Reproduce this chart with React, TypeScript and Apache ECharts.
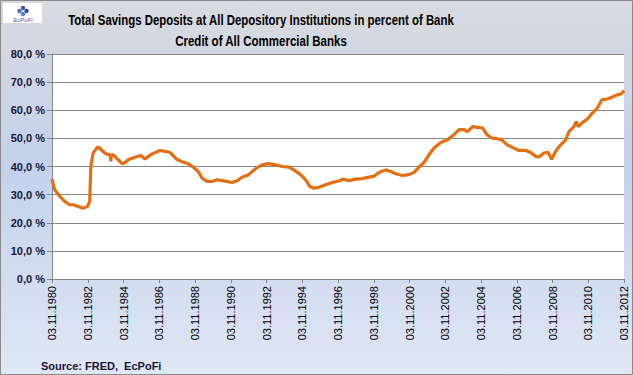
import React, { useEffect, useRef } from "react";
import * as echarts from "echarts";

// Decimal years (03.11.1980 ≈ 1980.84) and values in percent
const dates: number[] = [
  1980.84, 1980.99, 1981.27, 1981.55, 1981.83, 1982.02, 1982.30, 1982.58, 1982.82, 1982.95,
  1983.01, 1983.14, 1983.38, 1983.51, 1983.79, 1983.98, 1984.10, 1984.13, 1984.16, 1984.26,
  1984.54, 1984.76, 1984.95, 1985.10, 1985.48, 1985.81, 1986.04, 1986.41, 1986.88, 1987.16,
  1987.44, 1987.81, 1988.09, 1988.46, 1988.74, 1989.02, 1989.23, 1989.51, 1989.79, 1990.07,
  1990.44, 1990.91, 1991.19, 1991.47, 1991.84, 1992.22, 1992.59, 1992.96, 1993.34, 1993.72,
  1994.09, 1994.37, 1994.74, 1995.02, 1995.26, 1995.49, 1995.77, 1996.14, 1996.52, 1996.98,
  1997.08, 1997.45, 1997.82, 1998.20, 1998.57, 1998.85, 1999.13, 1999.51, 1999.79, 2000.07,
  2000.44, 2000.81, 2001.09, 2001.37, 2001.65, 2001.93, 2002.21, 2002.59, 2002.96, 2003.33,
  2003.61, 2003.89, 2004.08, 2004.37, 2004.65, 2004.93, 2005.11, 2005.18, 2005.46, 2005.75,
  2006.03, 2006.31, 2006.59, 2006.96, 2007.34, 2007.62, 2007.90, 2008.08, 2008.36, 2008.60,
  2008.79, 2009.02, 2009.20, 2009.58, 2009.76, 2010.04, 2010.17, 2010.28, 2010.51, 2010.79,
  2011.07, 2011.35, 2011.60, 2011.91, 2012.19, 2012.47, 2012.66, 2012.85,
];
const savingsShare: number[] = [
  35.5, 31.7, 29.4, 27.6, 26.4, 26.4, 25.8, 25.2, 25.8, 27.5,
  40.0, 44.8, 46.9, 46.5, 44.8, 44.2, 44.2, 41.8, 44.0, 44.2,
  42.4, 41.0, 41.5, 42.4, 43.3, 43.9, 42.7, 44.4, 45.7, 45.4,
  45.0, 42.6, 41.8, 41.0, 39.8, 38.2, 35.9, 34.7, 34.7, 35.3,
  34.9, 34.3, 34.9, 36.2, 37.1, 39.2, 40.6, 41.0, 40.6, 40.0,
  39.8, 38.8, 37.1, 35.3, 32.9, 32.3, 32.6, 33.5, 34.3, 35.0,
  35.5, 35.0, 35.5, 35.7, 36.2, 36.5, 37.9, 38.8, 38.2, 37.4,
  36.8, 37.1, 37.9, 39.8, 41.4, 44.2, 46.6, 48.5, 49.5, 51.3,
  53.1, 53.1, 52.4, 54.2, 53.9, 53.7, 51.9, 51.3, 50.1, 49.9,
  49.3, 47.7, 46.8, 45.7, 45.7, 45.0, 43.6, 43.4, 44.8, 45.0,
  42.6, 45.4, 47.1, 49.5, 52.4, 54.2, 56.0, 54.2, 55.6, 56.9,
  59.0, 60.8, 63.7, 64.0, 64.7, 65.5, 65.7, 67.0,
];

const startYear = 1980.84;
const tickLabelPrefix = "03.11.";
const titleLines = [
  "Total Savings Deposits at All Depository Institutions in percent of Bank",
  "Credit of All Commercial Banks",
];
const sourceText = "Source: FRED,  EcPoFi";

export default function App() {
  const ref = useRef<HTMLDivElement>(null);
  useEffect(() => {
    if (!ref.current) return;
    const chart = echarts.init(ref.current, null, { renderer: "svg" });
    const data = dates.map((d, i) => [d - startYear, savingsShare[i]]);
    const titleFont = 'bold 14px "Liberation Sans", Arial, sans-serif';
    chart.setOption({
      animation: false,
      backgroundColor: "transparent",
      graphic: [
        {
          type: "rect",
          z: -10,
          silent: true,
          shape: { x: 0.5, y: 0.5, width: 632, height: 374 },
          style: {
            fill: new echarts.graphic.LinearGradient(0, 0, 0, 1, [
              { offset: 0, color: "#d8dadf" },
              { offset: 0.45, color: "#c3d1eb" },
              { offset: 1, color: "#e0e7f4" },
            ]),
            stroke: "#8a8a8a",
            lineWidth: 1,
          },
        },
        {
          type: "group",
          left: 3,
          top: 3,
          children: [
            { type: "rect", shape: { x: 0, y: 0, width: 39, height: 20 }, style: { fill: "#ffffff" } },
            { type: "circle", shape: { cx: 20, cy: 5, r: 2.2 }, style: { fill: "#3b5fa8" } },
            { type: "circle", shape: { cx: 16.5, cy: 8, r: 2.2 }, style: { fill: "#4f72b8" } },
            { type: "circle", shape: { cx: 23.5, cy: 8, r: 2.2 }, style: { fill: "#2e4f96" } },
            { type: "circle", shape: { cx: 20, cy: 11, r: 2.2 }, style: { fill: "#5b7cc0" } },
            {
              type: "text",
              style: {
                x: 20, y: 17, text: "EcPoFi", textAlign: "center", textVerticalAlign: "middle",
                font: '6px "Liberation Sans", Arial, sans-serif', fill: "#3b5fa8",
              },
            },
          ],
        },
        {
          type: "text",
          x: 261,
          y: 20,
          scaleX: 0.816,
          style: {
            x: 0, y: 0, text: titleLines[0], textAlign: "center", textVerticalAlign: "middle",
            font: titleFont, fill: "#000000",
          },
        },
        {
          type: "text",
          x: 261,
          y: 41,
          scaleX: 0.823,
          style: {
            x: 0, y: 0, text: titleLines[1], textAlign: "center", textVerticalAlign: "middle",
            font: titleFont, fill: "#000000",
          },
        },
        {
          type: "text",
          x: 41,
          y: 366,
          style: {
            x: 0, y: 0, text: sourceText, textAlign: "left", textVerticalAlign: "middle",
            font: 'bold 11px "Liberation Sans", Arial, sans-serif', fill: "#16163a",
          },
        },
      ],
      grid: { left: 52, top: 54, right: 9, bottom: 96, backgroundColor: "#ffffff", show: true, borderWidth: 0 },
      xAxis: {
        type: "value",
        min: 0,
        max: 32,
        interval: 2,
        axisLine: { show: true, lineStyle: { color: "#868686", width: 1 } },
        axisTick: { show: true, length: 4, lineStyle: { color: "#868686" } },
        splitLine: { show: false },
        axisLabel: {
          rotate: 90,
          margin: 7,
          color: "#000000",
          fontSize: 11,
          fontFamily: '"Liberation Sans", Arial, sans-serif',
          formatter: (v: number) => tickLabelPrefix + Math.round(startYear - 0.84 + v),
        },
      },
      yAxis: {
        type: "value",
        min: 0,
        max: 80,
        interval: 10,
        axisLine: { show: true, lineStyle: { color: "#868686", width: 1 } },
        axisTick: { show: true, length: 5, lineStyle: { color: "#868686" } },
        splitLine: { show: true, lineStyle: { color: "#868686", width: 1 } },
        axisLabel: {
          margin: 7,
          color: "#16163a",
          fontSize: 11,
          fontWeight: "bold",
          fontFamily: '"Liberation Sans", Arial, sans-serif',
          formatter: (v: number) => v.toFixed(1).replace(".", ",") + " %",
        },
      },
      series: [
        {
          type: "line",
          data,
          showSymbol: false,
          symbol: "none",
          smooth: false,
          lineStyle: { color: "#e66e12", width: 3.2 },
          itemStyle: { color: "#e66e12" },
        },
      ],
    });
    return () => chart.dispose();
  }, []);
  return (
    <div
      ref={ref}
      style={{ position: "absolute", left: 0, top: 0, width: 633, height: 375 }}
    />
  );
}
